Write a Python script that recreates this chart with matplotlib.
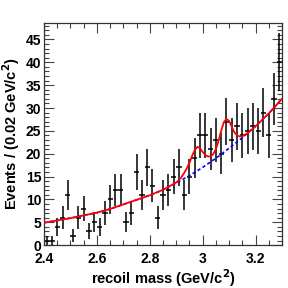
import numpy as np
import matplotlib
matplotlib.use("Agg")
import matplotlib.pyplot as plt
from matplotlib.ticker import MultipleLocator

# data: bin centres (0.02 GeV/c^2 bins) and event counts
mass = np.round(np.arange(2.41, 3.30, 0.02), 2)
counts = [1, 1, 4, 6, 11, 2, 6, 8, 3, 5,
          4, 7, 10, 12, 12, 5, 7, 16, 11, 17,
          13, 6, 11, 12, 15, 17, 11, 15, 19, 24,
          24, 21, 23, 20, 27, 23, 26, 24, 25, 26,
          25, 29, 24, 32, 40]

# background curve (blue dashed)
bkg_x = [2.40, 2.45, 2.50, 2.55, 2.60, 2.65, 2.70, 2.75, 2.80, 2.85,
         2.90, 2.95, 3.00, 3.05, 3.10, 3.15, 3.20, 3.25, 3.30]
bkg_y = [4.9, 5.4, 5.9, 6.5, 7.1, 7.9, 8.9, 9.9, 10.9, 12.1,
         13.6, 15.2, 17.0, 19.0, 21.2, 23.5, 26.0, 28.8, 32.0]

# total fit (red solid)
fit_x = [2.40, 2.45, 2.50, 2.55, 2.60, 2.65, 2.70, 2.75, 2.80, 2.85,
         2.90, 2.91, 2.92, 2.93, 2.94, 2.95, 2.96, 2.97, 2.98, 2.99,
         3.00, 3.01, 3.02, 3.03, 3.04, 3.05, 3.06, 3.07, 3.08, 3.09,
         3.10, 3.11, 3.12, 3.13, 3.14, 3.15, 3.16, 3.18, 3.20, 3.25, 3.30]
fit_y = [4.9, 5.4, 5.9, 6.5, 7.1, 7.9, 8.9, 9.9, 10.9, 12.1,
         13.7, 14.2, 14.9, 15.8, 16.8, 18.0, 19.5, 20.8, 21.5, 21.2,
         20.4, 19.7, 19.4, 19.4, 19.9, 21.0, 22.8, 25.0, 26.9, 27.6,
         27.2, 25.9, 24.7, 24.0, 23.8, 23.8, 24.1, 25.0, 26.0, 28.8, 32.0]

plt.rcParams['font.family'] = ['Liberation Sans', 'DejaVu Sans']
plt.rcParams['font.weight'] = 'bold'
plt.rcParams['mathtext.default'] = 'bf'

fig = plt.figure(figsize=(2.88, 2.88), dpi=100)
ax = fig.add_axes([0.153, 0.149, 0.826, 0.771])

ax.errorbar(mass, counts, xerr=0.01, yerr=np.sqrt(counts), fmt="none",
            ecolor="black", elinewidth=1.1, capsize=0, zorder=2)
ax.plot(bkg_x, bkg_y, color="blue", lw=1.2, ls=(0, (2, 1.5)), zorder=3)
ax.plot(fit_x, fit_y, color="#ff0000", lw=1.3, zorder=4)

ax.set_xlim(2.4, 3.3)
ax.set_ylim(0, 48.6)
ax.xaxis.set_major_locator(MultipleLocator(0.2))
ax.xaxis.set_minor_locator(MultipleLocator(0.05))
ax.yaxis.set_major_locator(MultipleLocator(5))
ax.yaxis.set_minor_locator(MultipleLocator(1))
ax.xaxis.set_major_formatter(plt.FuncFormatter(lambda v, p: f"{v:g}"))
ax.tick_params(which="both", direction="in", top=True, right=True,
               labelsize=10, width=0.8, color="#444444")
ax.tick_params(axis="x", pad=5)
ax.tick_params(axis="y", pad=2)
ax.tick_params(which="major", length=7)
ax.tick_params(which="minor", length=3.5)
for s in ax.spines.values():
    s.set_linewidth(0.9)
    s.set_color("#333333")

ax.set_xlabel("recoil mass (GeV/c$^2$)", fontsize=10.5, fontweight="bold", labelpad=1)
ax.set_ylabel("Events / (0.02 GeV/c$^2$)", fontsize=10.5, fontweight="bold", labelpad=3)

fig.savefig("out.png", dpi=100)
